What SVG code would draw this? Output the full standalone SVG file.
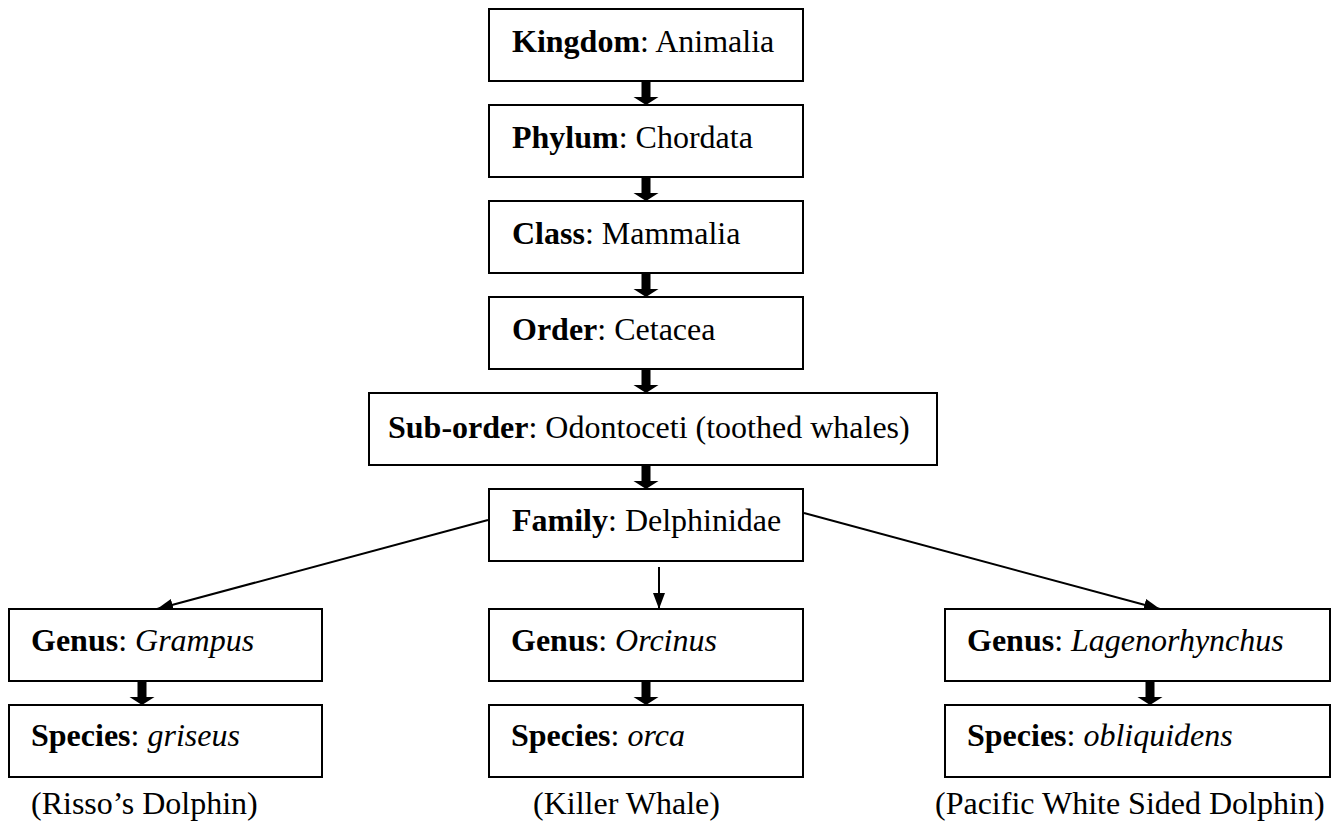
<svg xmlns="http://www.w3.org/2000/svg" width="1337" height="823" viewBox="0 0 1337 823">
<style>
  .box { fill: #fff; stroke: #000; stroke-width: 2; }
  text { font-family: "Liberation Serif", "Times New Roman", serif; font-size: 32px; fill: #000; }
  .b { font-weight: bold; }
  .i { font-style: italic; }
  .thin { stroke: #000; stroke-width: 2; fill: none; marker-end: url(#ah); }
  .thick { fill: #000; }
</style>
<defs>
  <marker id="ah" viewBox="0 0 16 12" refX="16" refY="6" markerWidth="16" markerHeight="12" markerUnits="userSpaceOnUse" orient="auto">
    <path d="M0,0 L16,6 L0,12 Z" fill="#000"/>
  </marker>
  <path id="fat" d="M-4.5,0 L4.5,0 L4.5,16 L12.5,16 L0,24 L-12.5,16 L-4.5,16 Z"/>
</defs>
<rect width="1337" height="823" fill="#fff"/>

<g id="connectors">
  <use href="#fat" class="thick" x="646" y="81"/>
  <use href="#fat" class="thick" x="646" y="177"/>
  <use href="#fat" class="thick" x="646" y="273"/>
  <use href="#fat" class="thick" x="646" y="369"/>
  <use href="#fat" class="thick" x="646" y="465"/>
  <use href="#fat" class="thick" x="142" y="681"/>
  <use href="#fat" class="thick" x="646" y="681"/>
  <use href="#fat" class="thick" x="1150" y="681"/>
  <line class="thin" x1="488" y1="520" x2="157" y2="609"/>
  <line class="thin" x1="659" y1="567" x2="659" y2="609"/>
  <line class="thin" x1="804" y1="513" x2="1160" y2="609"/>
</g>

<g id="kingdom"><rect class="box" x="489" y="9" width="314" height="72"/><text x="512" y="52"><tspan class="b">Kingdom</tspan>: Animalia</text></g>
<g id="phylum"><rect class="box" x="489" y="105" width="314" height="72"/><text x="512" y="148"><tspan class="b">Phylum</tspan>: Chordata</text></g>
<g id="class"><rect class="box" x="489" y="201" width="314" height="72"/><text x="512" y="244"><tspan class="b">Class</tspan>: Mammalia</text></g>
<g id="order"><rect class="box" x="489" y="297" width="314" height="72"/><text x="512" y="340"><tspan class="b">Order</tspan>: Cetacea</text></g>
<g id="suborder"><rect class="box" x="369" y="393" width="568" height="72"/><text x="388" y="438"><tspan class="b">Sub-order</tspan>: Odontoceti (toothed whales)</text></g>
<g id="family"><rect class="box" x="489" y="489" width="314" height="72"/><text x="512" y="531"><tspan class="b">Family</tspan>: Delphinidae</text></g>

<g id="genus-grampus"><rect class="box" x="9" y="609" width="313" height="72"/><text x="31" y="651"><tspan class="b">Genus</tspan>: <tspan class="i">Grampus</tspan></text></g>
<g id="species-griseus"><rect class="box" x="9" y="705" width="313" height="72"/><text x="31" y="746"><tspan class="b">Species</tspan>: <tspan class="i">griseus</tspan></text></g>
<g id="genus-orcinus"><rect class="box" x="489" y="609" width="314" height="72"/><text x="511" y="651"><tspan class="b">Genus</tspan>: <tspan class="i">Orcinus</tspan></text></g>
<g id="species-orca"><rect class="box" x="489" y="705" width="314" height="72"/><text x="511" y="746"><tspan class="b">Species</tspan>: <tspan class="i">orca</tspan></text></g>
<g id="genus-lagenorhynchus"><rect class="box" x="945" y="609" width="385" height="72"/><text x="967" y="651"><tspan class="b">Genus</tspan>: <tspan class="i">Lagenorhynchus</tspan></text></g>
<g id="species-obliquidens"><rect class="box" x="945" y="705" width="385" height="72"/><text x="967" y="746"><tspan class="b">Species</tspan>: <tspan class="i">obliquidens</tspan></text></g>

<g id="labels">
  <text x="31" y="814">(Risso’s Dolphin)</text>
  <text x="533" y="814">(Killer Whale)</text>
  <text x="935" y="814">(Pacific White Sided Dolphin)</text>
</g>
</svg>
